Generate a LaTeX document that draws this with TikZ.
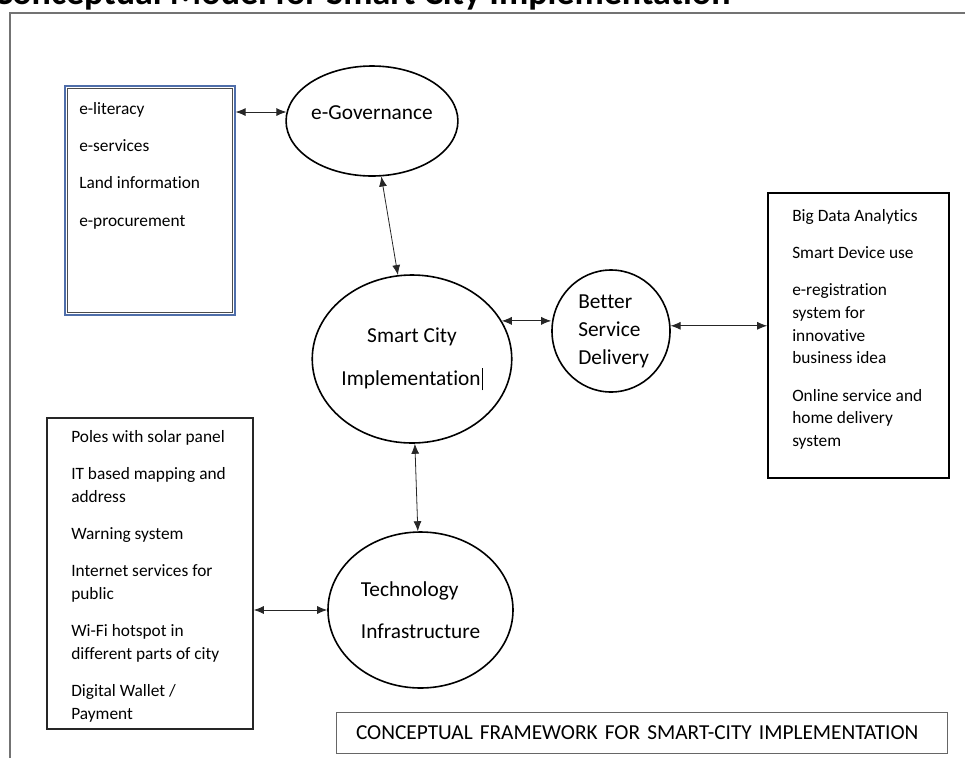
\documentclass[tikz,border=0pt]{standalone}
\usepackage{fontspec}
\setmainfont{Carlito}[Ligatures={NoCommon}]
\usetikzlibrary{arrows.meta,shapes.geometric,positioning}
\definecolor{boxblue}{RGB}{79,110,170}

\begin{document}
\begin{tikzpicture}[x=0.75pt,y=-0.75pt,
  every node/.style={inner sep=0pt},
  item/.style={align=left,font=\fontsize{13}{17}\selectfont},
  bubble/.style={ellipse,draw,line width=1.2pt,align=center,font=\fontsize{16}{21}\selectfont},
  listbox/.style={draw,line width=1.2pt},
  link/.style={<->,>={Latex[length=7.5pt,width=6pt]},line width=0.6pt,black!85}]

\useasboundingbox (0,0) rectangle (965,758);
\clip (0,0) rectangle (965,758);

% title, cut off by the page top
\node[anchor=base west,font=\bfseries\fontsize{27}{30}\selectfont] (title) at (-7,4) {Conceptual Model for Smart City Implementation};

\draw[black!55,line width=1.5pt] (10,758) -- (10,13) -- (965,13);

% e-governance list
\node[draw=boxblue,line width=0.9pt,minimum width=127.5pt,minimum height=171.75pt] (govlist) at (150,200.5) {};
\draw[black!70,line width=0.8pt] ([shift={(3,3)}]govlist.north west) rectangle ([shift={(-3,-3)}]govlist.south east);
\node[item,anchor=north west] (govtxt) at (79,102) {e-literacy\\[11pt] e-services\\[11pt] Land information\\[11pt] e-procurement};

% service list
\node[listbox,minimum width=135.75pt,minimum height=213.75pt] (svclist) at (858.5,335.5) {};
\node[item,anchor=north west] (svctxt) at (792,209) {Big Data Analytics\\[11pt] Smart Device use\\[11pt] e-registration\\ system for\\ innovative\\ business idea\\[11pt] Online service and\\ home delivery\\ system};

% infrastructure list
\node[listbox,black!85,minimum width=154.5pt,minimum height=233.25pt] (infralist) at (150,573.5) {};
\node[item,anchor=north west] (infratxt) at (71,430) {Poles with solar panel\\[11pt] IT based mapping and\\ address\\[11pt] Warning system\\[11pt] Internet services for\\ public\\[11pt] Wi-Fi hotspot in\\ different parts of city\\[11pt] Digital Wallet /\\ Payment};

% bubbles
\node[bubble,minimum width=106.5pt,minimum height=82.5pt,text depth=13pt] (gov) at (372,121) {e-Governance};
\node[bubble,minimum width=117pt,minimum height=126pt] (smart) at (412,359) {Smart City\\[11pt] Implementation\kern1pt\rule[-4pt]{0.4pt}{17pt}};
\node[bubble,minimum width=88.5pt,minimum height=91.5pt,align=left] (better) at (611,331) {\hspace*{4pt}Better\\ \hspace*{4pt}Service\\ \hspace*{4pt}Delivery};
\node[bubble,minimum width=138.75pt,minimum height=117pt,align=left] (tech) at (420.5,610) {Technology\\[11pt] Infrastructure};

\node[draw=black!60,line width=0.6pt,minimum height=30.75pt,text width=428.25pt,inner xsep=15pt,align=left,font=\fontsize{16}{19}\selectfont] (caption) at (641.5,732.5) {CONCEPTUAL FRAMEWORK FOR SMART-CITY IMPLEMENTATION};

% links
\draw[link] (govlist.east |- gov.174) -- (gov.174);
\draw[link] (gov) -- (smart);
\draw[link] (smart.23) -- (smart.23 -| better.west);
\draw[link] (better.5) -- (better.5 -| svclist.west);
\draw[link] (smart) -- (tech);
\draw[link] (tech.west) -- (tech.west -| infralist.east);

\end{tikzpicture}
\end{document}
